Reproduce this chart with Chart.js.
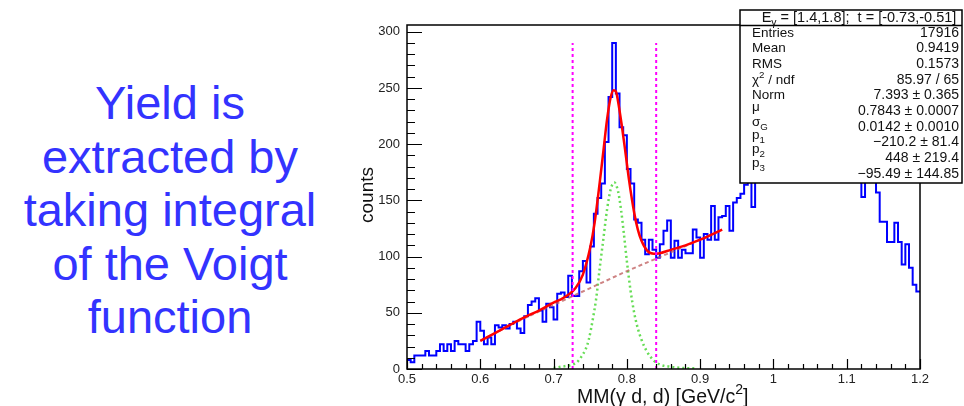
<!DOCTYPE html>
<html>
<head>
<meta charset="utf-8">
<script src="https://cdn.jsdelivr.net/npm/chart.js@4.4.1/dist/chart.umd.min.js"></script>
<style>
  html, body { margin: 0; padding: 0; background: #fff; }
  #wrap { position: relative; width: 964px; height: 406px; overflow: hidden; }
  #note { position: absolute; left: 0; top: 76px; width: 340px; text-align: center;
          font: 47px/53.5px "Liberation Sans", Arial, sans-serif; color: #3333ff; }
  canvas { position: absolute; left: 0; top: 0; }
</style>
</head>
<body>
<div id="wrap">
  <div id="note">Yield is<br>extracted by<br>taking integral<br>of the Voigt<br>function</div>
  <canvas id="hist" width="964" height="406"></canvas>
</div>
<script>
// MM(gamma d, d) histogram: 140 bins of 0.005 GeV from 0.5 to 1.2
var binLow = 0.5;
var binWidth = 0.005;
var counts = [
  8, 6, 12, 12, 12, 16, 12, 12, 16, 22, 16, 22, 16, 25, 22, 22, 16, 22, 25, 42,
  34, 22, 28, 22, 39, 37, 39, 36, 40, 42, 36, 32, 47, 57, 60, 63, 52, 42, 58, 55,
  44, 67, 68, 64, 83, 65, 65, 87, 96, 77, 109, 138, 152, 165, 202, 242, 290, 245, 215, 208,
  178, 165, 133, 130, 115, 102, 115, 106, 99, 111, 123, 132, 99, 114, 99, 106, 103, 103, 124, 117,
  99, 120, 115, 145, 115, 135, 136, 145, 123, 148, 152, 156, 164, 172, 144, 172, 180, 176, 190, 185,
  196, 205, 198, 212, 220, 208, 226, 232, 218, 240, 236, 228, 245, 238, 226, 232, 215, 220, 205, 198,
  190, 182, 175, 172, 153, 170, 168, 172, 157, 131, 131, 113, 113, 130, 113, 93, 111, 90, 75, 69
];

// total fit (Voigt + background)
var fitX = [0.600, 0.620, 0.640, 0.660, 0.680, 0.700, 0.710, 0.720, 0.730, 0.740, 0.750, 0.756, 0.763, 0.768, 0.773, 0.778,
            0.782, 0.785, 0.788, 0.793, 0.798, 0.803, 0.810, 0.815, 0.820, 0.828, 0.837, 0.845, 0.860, 0.880, 0.900, 0.930];
var fitY = [25, 32, 39, 46, 52, 59, 62, 66, 72, 84, 108, 130, 166, 194, 222, 242,
            248, 247, 238, 217, 193, 168, 139, 124, 114, 105, 102.5, 103, 106, 110, 115, 124];

// background part of the fit
var bgX = [0.600, 0.650, 0.700, 0.750, 0.800, 0.850, 0.900, 0.930];
var bgY = [25, 42, 57, 72, 87, 101, 115, 124];

// Voigt part of the fit
var voigtX = [0.700, 0.710, 0.720, 0.726, 0.732, 0.738, 0.744, 0.748, 0.754, 0.758, 0.763, 0.768, 0.773, 0.778, 0.783,
              0.788, 0.792, 0.796, 0.800, 0.805, 0.810, 0.815, 0.820, 0.827, 0.836, 0.845, 0.860, 0.875, 0.895];
var voigtY = [1, 2, 3, 4, 6, 11, 18, 26, 46, 62, 90, 116, 142, 160, 166,
              158, 142, 120, 96, 70, 50, 36, 26, 16, 8, 4, 2, 1, 0.5];

// integration window
var cutX = [0.726, 0.840];
var cutTop = 290;

// stats box
var statTitle = 'E_γ = [1.4,1.8];  t = [-0.73,-0.51]';
var statNames = ['Entries', 'Mean', 'RMS', 'χ^2 / ndf', 'Norm', 'μ', 'σ_G', 'p_1', 'p_2', 'p_3'];
var statValues = ['17916', '0.9419', '0.1573', '85.97 / 65', '7.393 ± 0.365', '0.7843 ± 0.0007',
                  '0.0142 ± 0.0010', '−210.2 ± 81.4', '448 ± 219.4', '−95.49 ± 144.85'];
var nameShift = [0, 0, 0, 0, 0, -4, -5, -7, -9, -11];

var FONT = '"Liberation Sans", Arial, sans-serif';

function pts(xs, ys) {
	return xs.map(function (x, i) { return { x: x, y: ys[i] }; });
}

var histPoints = counts.map(function (c, i) { return { x: binLow + i * binWidth, y: c }; });
histPoints.push({ x: binLow + counts.length * binWidth, y: counts[counts.length - 1] });

// Draws "a_b" / "a^b" with small sub/superscripts.
function richText(ctx, str, x, y, size, align) {
	var segs = [];
	for (var i = 0; i < str.length; i++) {
		var c = str[i];
		if ((c === '_' || c === '^') && i + 1 < str.length) {
			segs.push({ t: str[i + 1], shift: c === '_' ? size * 0.3 : -size * 0.42 });
			i++;
		} else if (segs.length && !segs[segs.length - 1].shift) {
			segs[segs.length - 1].t += c;
		} else {
			segs.push({ t: c, shift: 0 });
		}
	}
	var w = 0;
	segs.forEach(function (s) {
		s.font = (s.shift ? size * 0.72 : size) + 'px ' + FONT;
		ctx.font = s.font;
		s.w = ctx.measureText(s.t).width;
		w += s.w;
	});
	var cx = align === 'right' ? x - w : (align === 'center' ? x - w / 2 : x);
	ctx.textAlign = 'left';
	segs.forEach(function (s) {
		ctx.font = s.font;
		ctx.fillText(s.t, cx, y + s.shift);
		cx += s.w;
	});
}

// Frame, inward ticks, axis titles and stats box, ROOT style.
var rootFrame = {
	id: 'rootFrame',
	afterDraw: function (chart) {
		var ctx = chart.ctx, a = chart.chartArea, xs = chart.scales.x, ys = chart.scales.y;
		ctx.save();
		ctx.strokeStyle = '#000';
		ctx.lineWidth = 1.5;
		ctx.strokeRect(a.left, a.top, a.right - a.left, a.bottom - a.top);

		ctx.lineWidth = 1.2;
		ctx.beginPath();
		for (var v = 0; v <= ys.max; v += 10) {
			var py = Math.round(ys.getPixelForValue(v)) + 0.5;
			ctx.moveTo(a.left, py);
			ctx.lineTo(a.left + (v % 50 === 0 ? 15 : 8), py);
		}
		for (var k = 0; k <= 35; k++) {
			var px = Math.round(xs.getPixelForValue(0.5 + k * 0.02)) + 0.5;
			ctx.moveTo(px, a.bottom);
			ctx.lineTo(px, a.bottom - (k % 5 === 0 ? 10 : 5));
		}
		ctx.stroke();

		// axis titles
		ctx.fillStyle = '#111';
		ctx.font = '19px ' + FONT;
		ctx.save();
		ctx.translate(372.5, 195);
		ctx.rotate(-Math.PI / 2);
		ctx.textAlign = 'center';
		ctx.textBaseline = 'alphabetic';
		ctx.fillText('counts', 0, 0);
		ctx.restore();
		ctx.textBaseline = 'alphabetic';
		richText(ctx, 'MM(γ d, d) [GeV/c^2]', 577, 402.5, 19.5, 'left');

		// stats box
		var bx = 740, by = 10, bw = 222, bh = 173;
		ctx.fillStyle = '#fff';
		ctx.fillRect(bx, by, bw, bh);
		ctx.lineWidth = 1.5;
		ctx.strokeRect(bx, by, bw, bh);
		ctx.beginPath();
		ctx.moveTo(bx, 25.5);
		ctx.lineTo(bx + bw, 25.5);
		ctx.stroke();
		ctx.fillStyle = '#111';
		richText(ctx, statTitle, 859, 22, 14.5, 'center');
		for (var r = 0; r < statNames.length; r++) {
			var base = 36.7 + r * 15.67;
			richText(ctx, statNames[r], 752, base + nameShift[r], 13.5, 'left');
			richText(ctx, statValues[r], 959, base, 14, 'right');
		}
		ctx.restore();
	}
};

Chart.defaults.font.family = FONT;

new Chart(document.getElementById('hist'), {
	type: 'line',
	data: {
		datasets: [
			{ data: pts([cutX[0], cutX[0]], [0, cutTop]), borderColor: '#ff00ff', borderWidth: 2, borderDash: [3, 3] },
			{ data: pts([cutX[1], cutX[1]], [0, cutTop]), borderColor: '#ff00ff', borderWidth: 2, borderDash: [3, 3] },
			{ data: pts(fitX, fitY), borderColor: '#ff0000', borderWidth: 2.5, cubicInterpolationMode: 'monotone' },
			{ data: pts(bgX, bgY), borderColor: 'rgba(190,90,90,0.75)', borderWidth: 2, borderDash: [4, 3], cubicInterpolationMode: 'monotone' },
			{ data: pts(voigtX, voigtY), borderColor: '#66dd55', borderWidth: 2.5, borderDash: [2, 3], cubicInterpolationMode: 'monotone' },
			{ data: histPoints, borderColor: '#0000ff', borderWidth: 2, stepped: 'before' }
		]
	},
	options: {
		responsive: false,
		animation: false,
		devicePixelRatio: 1,
		events: [],
		layout: { padding: { left: 340, top: 25, right: 44, bottom: 0 } },
		elements: { point: { radius: 0 } },
		plugins: { legend: { display: false }, tooltip: { enabled: false } },
		scales: {
			x: {
				type: 'linear', min: 0.5, max: 1.2,
				grid: { display: false, drawTicks: false },
				border: { display: false },
				ticks: {
					stepSize: 0.1, includeBounds: false, autoSkip: false, maxRotation: 0,
					padding: 3, color: '#222', font: { size: 13 },
					callback: function (v) { return String(+v.toFixed(2)); }
				},
				afterFit: function (s) { s.height = 37; }
			},
			y: {
				type: 'linear', min: 0, max: 306,
				grid: { display: false, drawTicks: false },
				border: { display: false },
				ticks: { stepSize: 50, includeBounds: false, padding: 7, color: '#222', font: { size: 13 } },
				afterFit: function (s) { s.width = 67; }
			}
		}
	},
	plugins: [rootFrame]
});
</script>
</body>
</html>
